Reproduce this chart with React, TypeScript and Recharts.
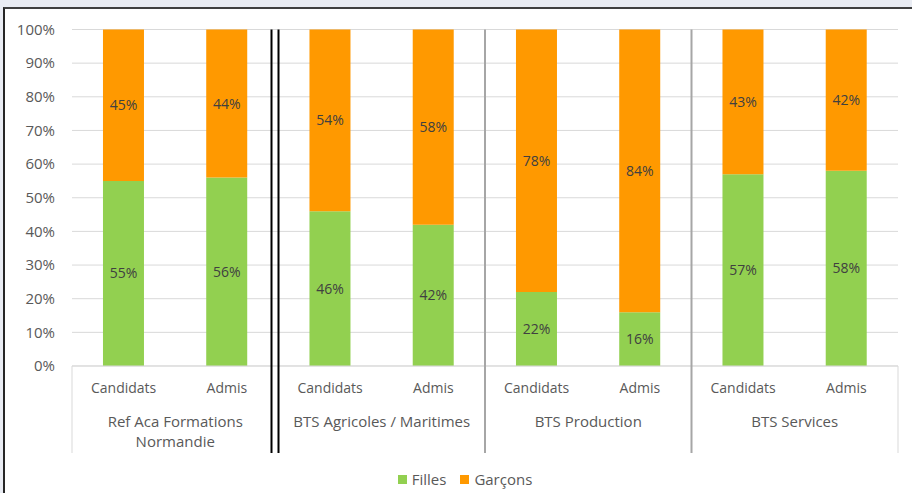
import React from 'react'
import { Bar, BarChart, CartesianGrid, LabelList, Text, XAxis, YAxis } from 'recharts'

const categories = ['Candidats', 'Admis', 'Candidats', 'Admis', 'Candidats', 'Admis', 'Candidats', 'Admis']
const groups = ['Ref Aca Formations Normandie', 'BTS Agricoles / Maritimes', 'BTS Production', 'BTS Services']
const filles = [55, 56, 46, 42, 22, 16, 57, 58]
const garcons = [45, 44, 54, 58, 78, 84, 43, 42]
const yTicks = [0, 10, 20, 30, 40, 50, 60, 70, 80, 90, 100]

const data = categories.map((cat, i) => ({ cat, filles: filles[i], garcons: garcons[i] }))

const W = 912
const H = 493
const PLOT_LEFT = 72
const PLOT_RIGHT = 898
const PLOT_TOP = 29.5
const PLOT_BOTTOM = 366
const SEP_BOTTOM = 453
const BAND = (PLOT_RIGHT - PLOT_LEFT) / categories.length

const GREEN = '#92D050'
const ORANGE = '#FF9900'
const TEXT = '#595959'
const FONT = '"Open Sans", sans-serif'

const CategoryTick = (props: any) => {
  const { x, y, payload } = props
  const i = payload.index
  const right = x + BAND / 2
  return (
    <g>
      <text x={x} y={y + 27} textAnchor='middle' fill={TEXT} fontSize={14} fontFamily={FONT}>
        {payload.value}
      </text>
      {i % 2 === 0 && (
        <Text
          x={x + BAND / 2}
          y={y + 50}
          width={195}
          textAnchor='middle'
          verticalAnchor='start'
          lineHeight={20}
          fill={TEXT}
          fontSize={15}
          fontFamily={FONT}
        >
          {groups[i / 2]}
        </Text>
      )}
      {i === 0 && <line x1={x - BAND / 2} x2={x - BAND / 2} y1={PLOT_BOTTOM} y2={SEP_BOTTOM} stroke='#D9D9D9' />}
      {i === 7 && <line x1={right} x2={right} y1={PLOT_BOTTOM} y2={SEP_BOTTOM} stroke='#D9D9D9' />}
      {i === 1 && (
        <g>
          <line x1={right - 7} x2={right - 7} y1={PLOT_TOP} y2={SEP_BOTTOM} stroke='#000' strokeWidth={2} />
          <line x1={right} x2={right} y1={PLOT_TOP} y2={SEP_BOTTOM} stroke='#000' strokeWidth={2} />
        </g>
      )}
      {(i === 3 || i === 5) && (
        <line x1={right} x2={right} y1={PLOT_TOP} y2={SEP_BOTTOM} stroke='#A6A6A6' strokeWidth={2} />
      )}
    </g>
  )
}

const pct = (v: any) => `${v}%`

const legendItems = [
  { name: 'Filles', color: GREEN },
  { name: 'Garçons', color: ORANGE }
]

export default function App() {
  return (
    <div style={{ position: 'absolute', left: 0, top: 0, width: W, height: H, background: '#E9ECF3', overflow: 'hidden' }}>
      <div
        style={{
          position: 'absolute', left: 3, top: 7, width: W, height: H,
          background: '#fff', borderLeft: '2px solid #262626', borderTop: '2px solid #404040'
        }}
      />
      <div style={{ position: 'absolute', left: 0, top: 0 }}>
        <BarChart
          width={W}
          height={H}
          data={data}
          margin={{ top: PLOT_TOP, right: W - PLOT_RIGHT, left: 0, bottom: 0 }}
          barCategoryGap='30%'
        >
          <CartesianGrid vertical={false} stroke='#D9D9D9' />
          <XAxis
            dataKey='cat'
            height={H - PLOT_BOTTOM}
            interval={0}
            tickLine={false}
            tickSize={0}
            tickMargin={0}
            axisLine={{ stroke: '#D9D9D9' }}
            tick={<CategoryTick />}
          />
          <YAxis
            width={PLOT_LEFT}
            domain={[0, 100]}
            ticks={yTicks}
            tickFormatter={pct}
            axisLine={false}
            tickLine={false}
            tickSize={0}
            tickMargin={17}
            tick={{ fill: TEXT, fontSize: 15, fontFamily: FONT }}
          />
          <Bar dataKey='filles' stackId='a' fill={GREEN} isAnimationActive={false}>
            <LabelList dataKey='filles' position='center' formatter={pct} fill='#404040' fontSize={14} fontFamily={FONT} />
          </Bar>
          <Bar dataKey='garcons' stackId='a' fill={ORANGE} isAnimationActive={false}>
            <LabelList dataKey='garcons' position='center' formatter={pct} fill='#404040' fontSize={14} fontFamily={FONT} />
          </Bar>
        </BarChart>
      </div>
      <div
        style={{
          position: 'absolute', left: 0, width: W, top: 469, display: 'flex', justifyContent: 'center', gap: 14,
          fontFamily: FONT, fontSize: 15, color: TEXT, lineHeight: '20px', paddingLeft: 18, boxSizing: 'border-box'
        }}
      >
        {legendItems.map((it) => (
          <div key={it.name} style={{ display: 'flex', alignItems: 'center' }}>
            <span style={{ width: 9, height: 9, background: it.color, marginRight: 5 }} />
            {it.name}
          </div>
        ))}
      </div>
    </div>
  )
}
